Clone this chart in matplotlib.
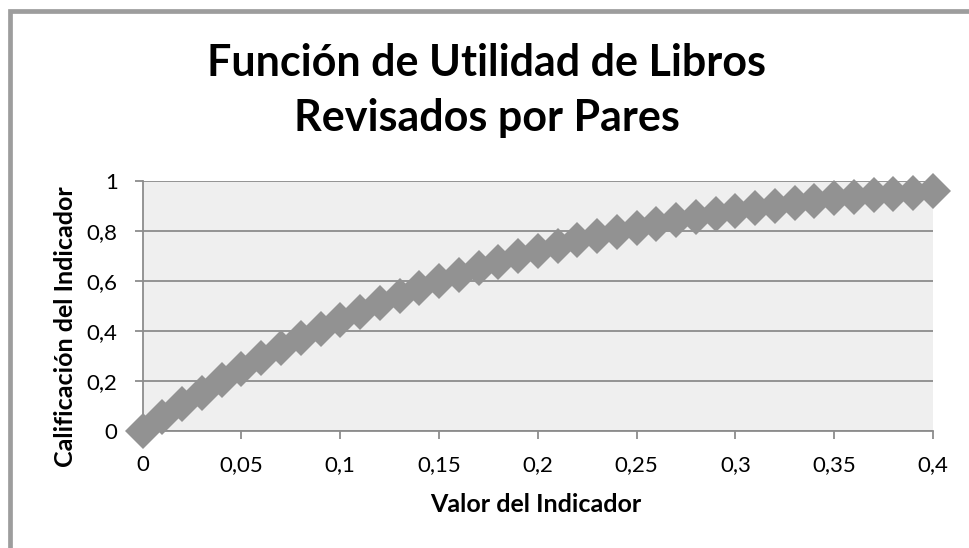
import numpy as np
import matplotlib
matplotlib.use('Agg')
import matplotlib.pyplot as plt
from matplotlib.patches import Rectangle

# indicator values (x) and score (y)
valor = [0.00, 0.01, 0.02, 0.03, 0.04, 0.05, 0.06, 0.07, 0.08, 0.09,
         0.10, 0.11, 0.12, 0.13, 0.14, 0.15, 0.16, 0.17, 0.18, 0.19,
         0.20, 0.21, 0.22, 0.23, 0.24, 0.25, 0.26, 0.27, 0.28, 0.29,
         0.30, 0.31, 0.32, 0.33, 0.34, 0.35, 0.36, 0.37, 0.38, 0.39, 0.40]
calif = [0.000, 0.057, 0.107, 0.153, 0.204, 0.248, 0.293, 0.333, 0.371, 0.407,
         0.444, 0.477, 0.511, 0.541, 0.571, 0.600, 0.624, 0.651, 0.677, 0.700,
         0.720, 0.740, 0.764, 0.781, 0.795, 0.811, 0.827, 0.844, 0.855, 0.867,
         0.881, 0.891, 0.900, 0.911, 0.920, 0.931, 0.937, 0.944, 0.948, 0.953, 0.960]

xticks = [0, 0.05, 0.1, 0.15, 0.2, 0.25, 0.3, 0.35, 0.4]
xlabels = ['0', '0,05', '0,1', '0,15', '0,2', '0,25', '0,3', '0,35', '0,4']
yticks = [0, 0.2, 0.4, 0.6, 0.8, 1]
ylabels = ['0', '0,2', '0,4', '0,6', '0,8', '1']

plt.rcParams['font.family'] = ['Lato', 'DejaVu Sans']

grey = '#8c8c8c'
mark = '#929292'
bg = '#efefef'

W, H = 970, 548
fig = plt.figure(figsize=(W/100, H/100), dpi=100, facecolor='white')
ax = fig.add_axes([142.7/W, 1-431/H, 790.3/W, 250/H])
ax.set_facecolor(bg)

ax.plot(valor, calif, color=mark, lw=3, marker='D', markersize=18,
        markeredgewidth=0, markerfacecolor=mark, clip_on=False, zorder=3)

ax.set_xlim(0, 0.4)
ax.set_ylim(0, 1)
ax.set_xticks(xticks)
ax.set_xticklabels(xlabels)
ax.set_yticks(yticks)
ax.set_yticklabels(ylabels)

ax.grid(axis='y', color=grey, lw=1.3)
ax.set_axisbelow(True)
for s in ['top', 'right']:
    ax.spines[s].set_visible(False)
for s in ['left', 'bottom']:
    ax.spines[s].set_color(grey)
    ax.spines[s].set_linewidth(1.3)
ax.tick_params(axis='both', direction='out', length=6, width=1.3, color=grey,
               labelsize=16, labelcolor='black')
ax.tick_params(axis='y', pad=12)
ax.tick_params(axis='x', pad=11)

fig.text(536/W, 1-505/H, 'Valor del Indicador', ha='center', va='center',
         fontsize=18, fontweight='bold')
fig.text(66/W, 1-327/H, 'Calificación del Indicador', ha='center', va='center',
         rotation=90, fontsize=18, fontweight='bold')
fig.text(487/W, 1-76/H, 'Función de Utilidad de Libros',
         ha='center', va='baseline', fontsize=31, fontweight='bold')
fig.text(487/W, 1-131/H, 'Revisados por Pares',
         ha='center', va='baseline', fontsize=31, fontweight='bold')

# outer chart frame (only top and left edges fall inside the picture)
fig.add_artist(Rectangle((10.5/W, -0.1), 1.2, 1-11.5/H+0.1,
                         transform=fig.transFigure, fill=False,
                         edgecolor='#9d9d9d', lw=3.4))

fig.savefig('out.png', dpi=100, facecolor='white')
